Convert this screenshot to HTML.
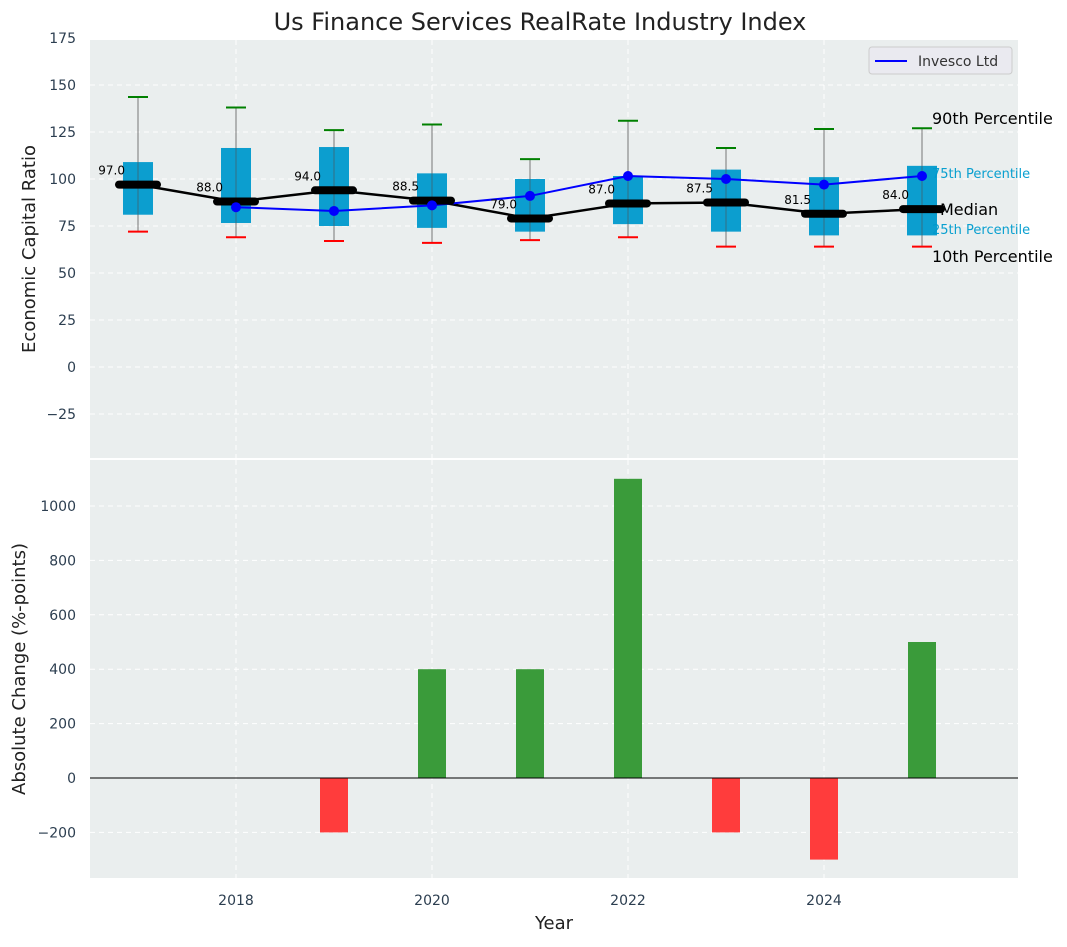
<!DOCTYPE html>
<html><head><meta charset="utf-8">
<style>
body{margin:0;background:#fff;font-family:"Liberation Sans","DejaVu Sans",sans-serif;}
svg text{font-family:"DejaVu Sans","Liberation Sans",sans-serif;}
</style></head>
<body>
<svg id="chart" width="1067" height="942" viewBox="0 0 1067 942" xmlns="http://www.w3.org/2000/svg">
<text x="540" y="30" text-anchor="middle" font-size="24" fill="#222">Us Finance Services RealRate Industry Index</text>
<rect x="90" y="40" width="928" height="418" fill="#eaeeee"/>
<rect x="90" y="460" width="928" height="418" fill="#eaeeee"/>
<g id="grid"></g>
<g id="top"></g>
<g id="bottom"></g>
<text transform="translate(35,249) rotate(-90)" text-anchor="middle" font-size="18" fill="#222">Economic Capital Ratio</text>
<text transform="translate(25,669) rotate(-90)" text-anchor="middle" font-size="18" fill="#222">Absolute Change (%-points)</text>
<text x="554" y="929" text-anchor="middle" font-size="18" fill="#222">Year</text>
<g>
<rect x="869" y="47" width="143" height="27" rx="3" fill="#eaeaf0" stroke="#ccc"/>
<line x1="875" y1="61" x2="907" y2="61" stroke="blue" stroke-width="2"/>
<text x="918" y="66" font-size="14" fill="#333">Invesco Ltd</text>
</g>
</svg>
<script>
const years=[2017,2018,2019,2020,2021,2022,2023,2024,2025];
const p90=[143.6,138,126,129,110.6,131,116.5,126.6,127];
const q3=[109,116.5,117,103,100,101.6,105,101,107];
const median=[97,88,94,88.5,79,87,87.5,81.5,84];
const q1=[81,76.6,75,74,72,76,72,70,70];
const p10=[72,69,67,66,67.5,69,64,64,64];
const invesco=[null,85,83,86,91,101.6,100,97,101.6];
const changes=[0,0,-200,400,400,1100,-200,-300,500];
const topTicks=[-25,0,25,50,75,100,125,150,175];
const botTicks=[-200,0,200,400,600,800,1000];
const xTicks=[2018,2020,2022,2024];
const NS="http://www.w3.org/2000/svg";
const X=y=>138+(y-2017)*98;
const YT=v=>367-v*1.88;
const YB=v=>778-v*0.272;
function mk(tag,attrs,parent,text){const e=document.createElementNS(NS,tag);for(const k in attrs)e.setAttribute(k,attrs[k]);if(text!=null)e.textContent=text;document.getElementById(parent).appendChild(e);return e;}
// grid + ticks
topTicks.forEach(t=>{
 const l=mk('line',{x1:90,x2:1018,y1:YT(t),y2:YT(t),stroke:'#fff','stroke-dasharray':'5,4','stroke-width':1},'grid');
 
 
 const tx=mk('text',{x:76,y:YT(t)+5,'text-anchor':'end','font-size':14,fill:'#2c3e50'},'grid',String(t).replace('-','−'));
 
 
});
botTicks.forEach(t=>{
 const l=mk('line',{x1:90,x2:1018,y1:YB(t),y2:YB(t),stroke:'#fff','stroke-dasharray':'5,4','stroke-width':1},'grid');
 
 
 const tx=mk('text',{x:76,y:YB(t)+5,'text-anchor':'end','font-size':14,fill:'#2c3e50'},'grid',String(t).replace('-','−'));
 
 
});
xTicks.forEach(t=>{
 [[40,458],[460,878]].forEach(r=>{
  const l=mk('line',{x1:X(t),x2:X(t),y1:r[0],y2:r[1],stroke:'#fff','stroke-dasharray':'5,4'},'grid');
  
  
 });
 const tx=mk('text',{x:X(t),y:905,'text-anchor':'middle','font-size':14,fill:'#2c3e50'},'grid',t);
 
 
});
// right annotations (behind boxes)
const lx=X(2025);
[['90th Percentile',lx+10,124,16,'#000'],['75th Percentile',lx+10,178,13,'#0aa0d0'],['Median',lx+18,215,16,'#000'],['25th Percentile',lx+10,234,13,'#0aa0d0'],['10th Percentile',lx+10,262,16,'#000']].forEach(a=>{
 const t=mk('text',{x:a[1],y:a[2],'font-size':a[3],fill:a[4]},'top',a[0]);
 
 
});
// boxes
years.forEach((y,i)=>{
 const x=X(y);
 const w=mk('line',{x1:x,x2:x,y1:YT(p90[i]),y2:YT(p10[i]),stroke:'#777','stroke-width':1},'top');
 
 
 const b=mk('rect',{x:x-15,y:YT(q3[i]),width:30,height:YT(q1[i])-YT(q3[i]),fill:'#0099cc','fill-opacity':0.95},'top');
 
 
 const w2=mk('line',{x1:x,x2:x,y1:YT(q3[i]),y2:YT(q1[i]),stroke:'#555','stroke-width':1,'stroke-opacity':0.6},'top');
 
 
 const c1=mk('line',{x1:x-10,x2:x+10,y1:YT(p90[i]),y2:YT(p90[i]),stroke:'green','stroke-width':2},'top');
 
 
 const c2=mk('line',{x1:x-10,x2:x+10,y1:YT(p10[i]),y2:YT(p10[i]),stroke:'red','stroke-width':2},'top');
 
 
});
// median line
mk('polyline',{points:years.map((y,i)=>X(y)+','+YT(median[i])).join(' '),fill:'none',stroke:'#000','stroke-width':2.5},'top');
// invesco line
const pts=years.map((y,i)=>invesco[i]==null?null:X(y)+','+YT(invesco[i])).filter(p=>p);
const il=mk('polyline',{points:pts.join(' '),fill:'none',stroke:'blue','stroke-width':2},'top');


years.forEach((y,i)=>{
 const x=X(y);
 const m=mk('line',{x1:x-19,x2:x+19,y1:YT(median[i]),y2:YT(median[i]),stroke:'#000','stroke-width':8,'stroke-linecap':'round'},'top');
 
 
 const t=mk('text',{x:x-13,y:YT(median[i])-10,'text-anchor':'end','font-size':12,fill:'#000'},'top',median[i].toFixed(1));
 
 
 if(invesco[i]!=null){
  const d=mk('circle',{cx:x,cy:YT(invesco[i]),r:5,fill:'blue'},'top');
  
  
 }
});
// bars
years.forEach((y,i)=>{
 const v=changes[i]; if(v===0)return;
 const y0=YB(Math.max(v,0)),h=Math.abs(YB(v)-YB(0));
 const b=mk('rect',{x:X(y)-14,y:y0,width:28,height:h,fill:v>0?'#3a9b3a':'#ff3c3c'},'bottom');
 
 
});
const z=mk('line',{x1:90,x2:1018,y1:YB(0),y2:YB(0),stroke:'#000','stroke-width':1},'bottom');


</script>
</body></html>
